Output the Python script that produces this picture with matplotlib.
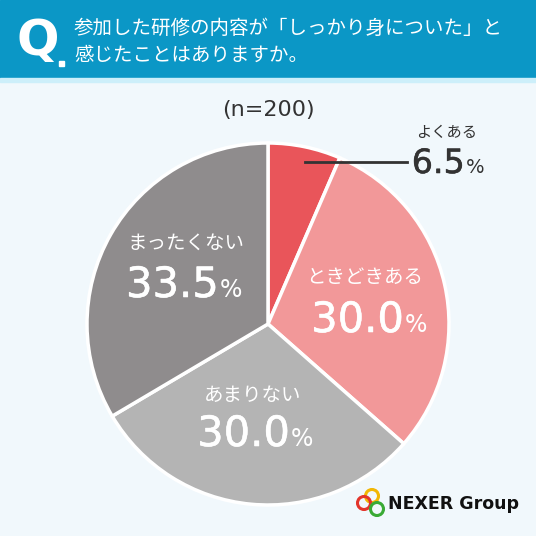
import matplotlib.pyplot as plt
import matplotlib.patheffects as pe
from matplotlib.patches import Rectangle, Circle

plt.rcParams['font.family'] = ['Noto Sans CJK JP', 'DejaVu Sans']

# data
labels = ['よくある', 'ときどきある', 'あまりない', 'まったくない']
values = [6.5, 30.0, 30.0, 33.5]
colors = ['#E9555A', '#F29899', '#B4B4B4', '#8F8C8D']
title_lines = ['参加した研修の内容が「しっかり身についた」と', '感じたことはありますか。']
n_text = '(n=200)'

H = 536
def Y(py):
    # pixel row -> data y
    return H - py

fig = plt.figure(figsize=(5.36, 5.36), dpi=100)
fig.patch.set_facecolor('#F1F8FC')
ax = fig.add_axes([0, 0, 1, 1])
ax.set_facecolor('#F1F8FC')

# pie
ax.pie(values, colors=colors, startangle=90, counterclock=False,
       center=(268, Y(324)), radius=181,
       wedgeprops=dict(edgecolor='white', linewidth=2.5))
ax.set_xlim(0, 536)
ax.set_ylim(0, 536)
ax.set_aspect('equal')
ax.axis('off')

# header
ax.add_patch(Rectangle((0, Y(78)), 536, 78, color='#0B97C6', zorder=5))
ax.add_patch(Rectangle((0, Y(82)), 536, 4, color='#CDEFFA', zorder=5))
ax.text(38, Y(41), 'Q', color='white', fontsize=36, fontweight='bold',
        ha='center', va='center', family='DejaVu Sans', zorder=6)
ax.add_patch(Rectangle((59, Y(66)), 5, 5, color='white', zorder=6))
ax.text(74, Y(28), title_lines[0], color='white', fontsize=14,
        ha='left', va='center', zorder=6)
ax.text(74, Y(55), title_lines[1], color='white', fontsize=14,
        ha='left', va='center', zorder=6)

# sample size
ax.text(268, Y(110), n_text, color='#333333', fontsize=16, ha='center', va='center',
        family='DejaVu Sans')

# labels: (label center x, label center y, split x, baseline y, big size, pct size, label size, color)
spots = [
    (447, 133, 465, 173, 24, 14, 11, '#333333'),
    (365, 277, 404, 332, 30, 17, 14, 'white'),
    (253, 395, 290, 446, 30, 17, 14, 'white'),
    (186, 243, 219, 297, 30, 17, 14, 'white'),
]
for lab, val, (lx, ly, sx, by, bs, ps, ls, c) in zip(labels, values, spots):
    thick = [pe.Stroke(linewidth=0.4, foreground=c), pe.Normal()]
    ax.text(lx, Y(ly), lab, color=c, fontsize=ls, ha='center', va='center')
    ax.text(sx, Y(by), f'{val:.1f}', color=c, fontsize=bs,
            ha='right', va='baseline', family='DejaVu Sans', path_effects=thick)
    ax.text(sx + 1, Y(by), '%', color=c, fontsize=ps,
            ha='left', va='baseline', family='DejaVu Sans')

# leader line for the small slice
ax.plot([305, 407], [Y(162), Y(162)], color='#333333', lw=2)

# logo
for cx, cy, cc in [(372, 496, '#F2B705'), (364, 503, '#E3352B'), (377, 509, '#3AAA35')]:
    ax.add_patch(Circle((cx, Y(cy)), 6.5, fill=False, edgecolor=cc, lw=2.2, zorder=6))
ax.text(388, Y(504), 'NEXER Group', color='#111111', fontsize=12.5, fontweight='bold',
        ha='left', va='center', family='DejaVu Sans')

fig.savefig('out.png', dpi=100, facecolor=fig.get_facecolor())
